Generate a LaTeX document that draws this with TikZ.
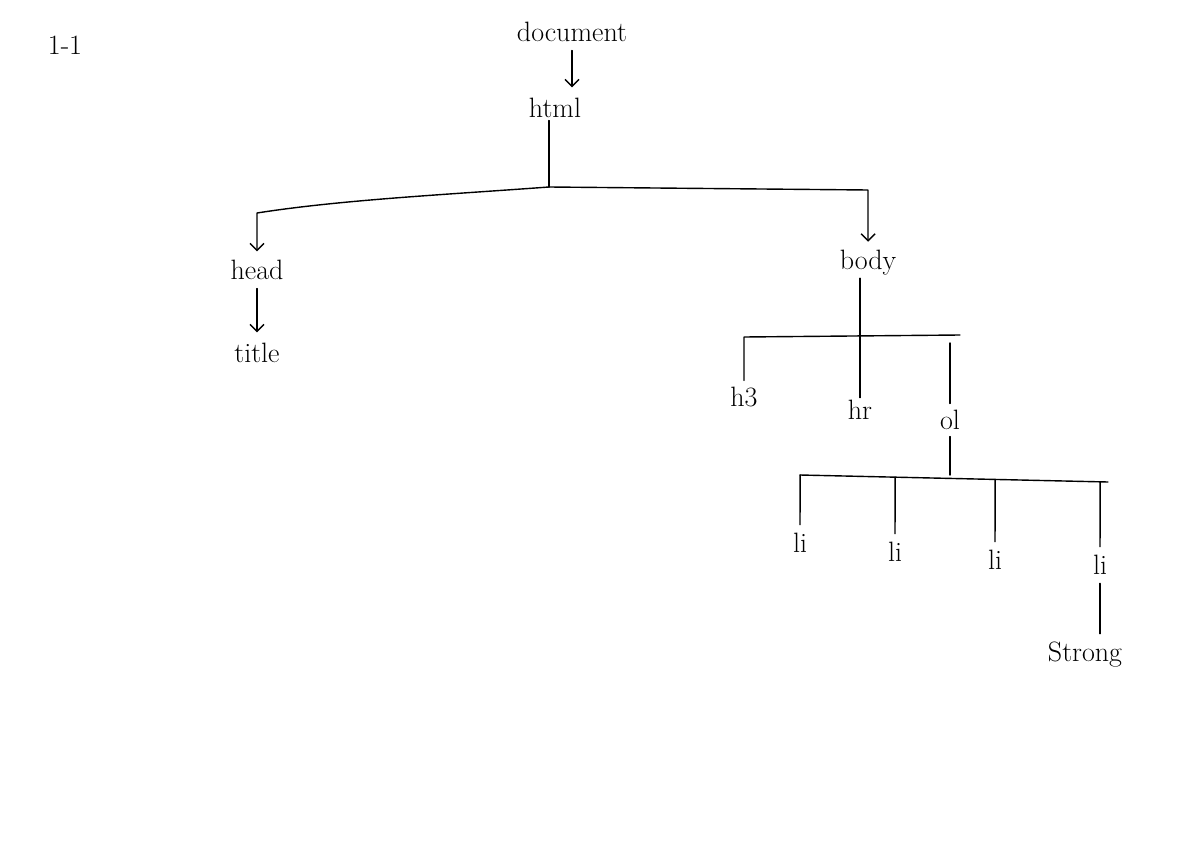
\documentclass[tikz,border=0pt]{standalone}
\usetikzlibrary{calc,arrows.meta}

\begin{document}
\begin{tikzpicture}[x=1pt, y=-1pt, line cap=round, line join=round, line width=1.4pt,
  >={Straight Barb[length=7pt,width=14pt]}]

\tikzset{
  tag/.style={font=\fontsize{28pt}{32pt}\selectfont, inner sep=2pt},
  hop/.style={->, shorten >=8pt, shorten <=6pt},
}
\useasboundingbox (0,0) rectangle (1190,845);

% 页码
\node[tag] (pagenum) at (65,45) {1-1};

% 根和 html
\node[tag] (document) at (572,32) {document};
\node[tag] (html) at (555,108) {html};
\draw[hop] (document.south) -- (document.south |- html.north);

% html 的两个子节点
\node[tag] (head) at (257,270) {head};
\node[tag] (title) at (257,353) {title};
\node[tag] (body) at (868,263) {body};
\coordinate (htmljoin) at (549,187);
\coordinate (headtop) at (257,213);
\coordinate (bodytop) at (868,190);
\draw (htmljoin |- html.south) -- (htmljoin);
\draw[->, shorten >=6pt] (htmljoin) .. controls (440,195) and (340,200) .. (headtop) -- (head.north);
\draw[->, shorten >=6pt] (htmljoin) -- (bodytop) -- (body.north);
\draw[hop] (head) -- (title);

% body 的子节点
\node[tag] (h3) at (744,397) {h3};
\node[tag] (hr) at (860,410) {hr};
\node[tag] (ol) at (950,420) {ol};
\coordinate (bodyleft) at (744,337);
\coordinate (bodyright) at (960,335);
\draw (hr.north |- body.south) -- (hr.north);
\draw[shorten <=4pt] (h3.north) -- (bodyleft) -- (bodyright);
\draw[shorten <=4pt, shorten >=8pt] (ol.north) -- (ol.north |- bodyright);

% ol 的子节点
\coordinate (olleft) at (800,475);
\coordinate (olright) at (1108,482);
\draw[shorten <=4pt] (ol.south) -- (ol.south |- olleft);
\draw (olleft) -- (olright);
\foreach \name/\x/\y in {lione/800/543, litwo/895/552, lithree/995/560, lifour/1100/565}
{
  \node[tag] (\name) at (\x,\y) {li};
  \draw[shorten <=6pt] (\name.north) -- (intersection of olleft--olright and \name.north--\name.south);
}

% 最后一个 li 下的 strong
\node[tag] (strong) at (1085,655) {Strong};
\draw[shorten <=6pt, shorten >=6pt] (lifour.south) -- (lifour.south |- strong.north);

\end{tikzpicture}
\end{document}
